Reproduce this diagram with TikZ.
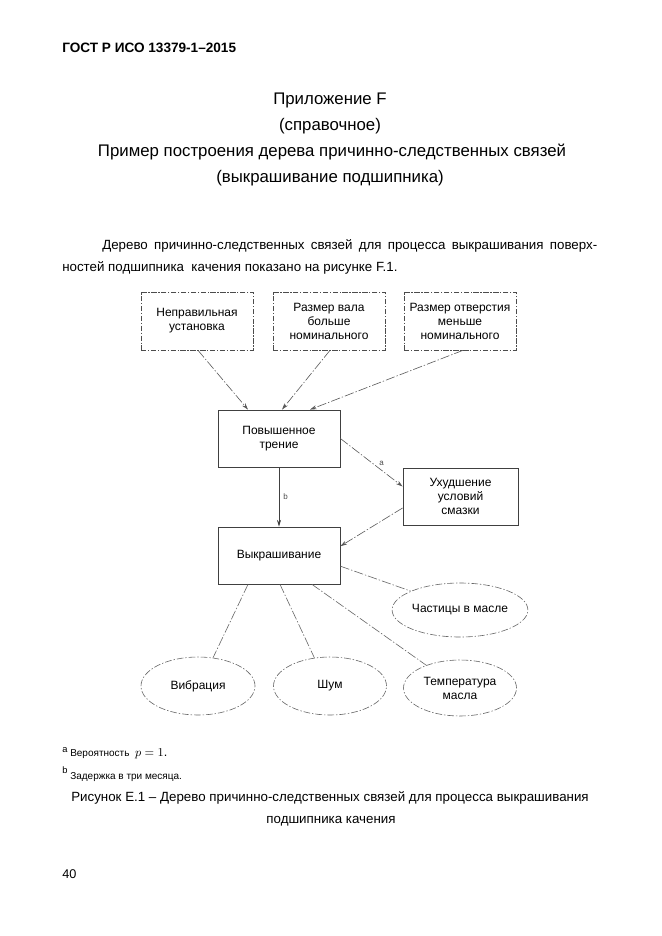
\documentclass[tikz,border=0pt]{standalone}
\usepackage{fontspec}
\setmainfont{Liberation Sans}
\usetikzlibrary{arrows.meta,shapes.geometric}
\begin{document}
\begin{tikzpicture}[x=0.75pt,y=-0.75pt,
  txt/.style={inner sep=0pt, anchor=base west},
  ctxt/.style={inner sep=0pt, anchor=base},
  ttl/.style={inner sep=0pt, anchor=base, font=\fontsize{12.6}{14}\selectfont},
  lbl/.style={inner sep=0pt, font=\fontsize{6}{7}\selectfont, text=black!70},
  dbox/.style={draw=black!70, dash pattern=on 4pt off 1.2pt on 1pt off 1.2pt, line width=0.5pt,
    minimum width=84pt, minimum height=43.5pt, align=center, inner sep=0pt,
    font=\fontsize{9}{10.5}\selectfont},
  sbox/.style={draw=black!75, line width=0.6pt, minimum height=42.75pt, align=center, inner sep=0pt,
    font=\fontsize{9}{10.5}\selectfont},
  dell/.style={ellipse, draw=black!60, dash pattern=on 5pt off 1.5pt on 1pt off 1.5pt, line width=0.45pt,
    align=center, inner sep=0pt, font=\fontsize{9}{10.5}\selectfont},
  conn/.style={draw=black!65, line width=0.45pt, dash pattern=on 7pt off 1.5pt on 1pt off 1.5pt,
    -{Stealth[length=5pt,width=3pt]}},
  sconn/.style={draw=black!75, line width=0.5pt, -{Stealth[length=5pt,width=3pt]}},
  link/.style={draw=black!60, line width=0.45pt, dash pattern=on 7pt off 1.5pt on 1pt off 1.5pt},
]
\fill[white] (0,0) rectangle (661,936);
\useasboundingbox (0,0) rectangle (661,936);

% header and titles
\node[txt, font=\bfseries\fontsize{10.2}{12}\selectfont] (hdr) at (62,52) {ГОСТ Р ИСО 13379-1–2015};
\node[ttl] (t1) at (330,104) {Приложение F};
\node[ttl] (t2) at (330,130) {(справочное)};
\node[ttl] (t3) at (332,156) {Пример построения дерева причинно-следственных связей};
\node[ttl] (t4) at (330,182) {(выкрашивание подшипника)};

% paragraph
\node[txt, font=\fontsize{10}{12}\selectfont] (p1) at (102,249) {\makebox[371.25pt][s]{Дерево причинно-следственных связей для процесса выкрашивания поверх-}};
\node[txt, font=\fontsize{10}{12}\selectfont] (p2) at (62,271) {ностей подшипника\ \ качения показано на рисунке F.1.};

% boxes
\node[dbox] (b1) at (197,321) {Неправильная\\установка};
\node[dbox] (b2) at (329,321) {Размер вала\\больше\\номинального};
\node[dbox] (b3) at (460,321) {Размер отверстия\\меньше\\номинального};
\node[sbox, minimum width=91.5pt] (pov) at (279,438.5) {Повышенное\\трение};
\node[sbox, minimum width=86.25pt] (ukh) at (460.5,496.5) {Ухудшение\\условий\\смазки};
\node[sbox, minimum width=91.5pt] (vyk) at (279,555.5) {Выкрашивание};

% ellipses
\node[dell, minimum width=84pt, minimum height=40.5pt] (cha) at (460,610) {Частицы в масле};
\node[dell, minimum width=85.5pt, minimum height=43.5pt] (vib) at (198,686) {Вибрация};
\node[dell, minimum width=84.75pt, minimum height=43.5pt] (shum) at (330,686) {Шум};
\node[dell, minimum width=84.75pt, minimum height=42pt] (tem) at (460,688) {Температура\\масла};

% connectors
\draw[conn] ([xshift=0.75pt]b1.south) -- ([xshift=-23.25pt]pov.north);
\draw[conn] ([xshift=0.75pt]b2.south) -- ([xshift=2.25pt]pov.north);
\draw[conn] ([xshift=2.25pt]b3.south) -- ([xshift=23.25pt]pov.north);
\draw[conn] (pov.east) -- node[lbl, pos=0.6, above right=1pt] (la) {a} ([yshift=7.5pt]ukh.west);
\draw[sconn] (pov.south) -- node[lbl, right=3pt] (lb) {b} (vyk.north);
\draw[conn] ([yshift=-8.6pt]ukh.west) -- ([yshift=7pt]vyk.east);
\draw[link] ([yshift=-8pt]vyk.east) -- (cha.159);
\draw[link] ([xshift=-23.25pt]vyk.south) -- (vib.62);
\draw[link] ([xshift=0.75pt]vyk.south) -- (shum.119);
\draw[link] ([xshift=24.75pt]vyk.south) -- (tem.146);

% footnotes
\node[txt, font=\fontsize{7}{8}\selectfont] (fa) at (62,752) {a};
\node[txt, font=\fontsize{7.5}{8}\selectfont] (fat) at (70,756) {Вероятность\ \ {\fontsize{9.5}{10}\selectfont$p=1$.}};
\node[txt, font=\fontsize{7}{8}\selectfont] (fb) at (62,773) {b};
\node[txt, font=\fontsize{7.5}{8}\selectfont] (fbt) at (70,779) {Задержка в три месяца.};

% caption
\node[ctxt, font=\fontsize{10}{12}\selectfont] (c1) at (330,801) {Рисунок Е.1 – Дерево причинно-следственных связей для процесса выкрашивания};
\node[ctxt, font=\fontsize{10}{12}\selectfont] (c2) at (331,823) {подшипника качения};

\node[txt, font=\fontsize{9.5}{11}\selectfont] (pg) at (62,878) {40};
\end{tikzpicture}
\end{document}
